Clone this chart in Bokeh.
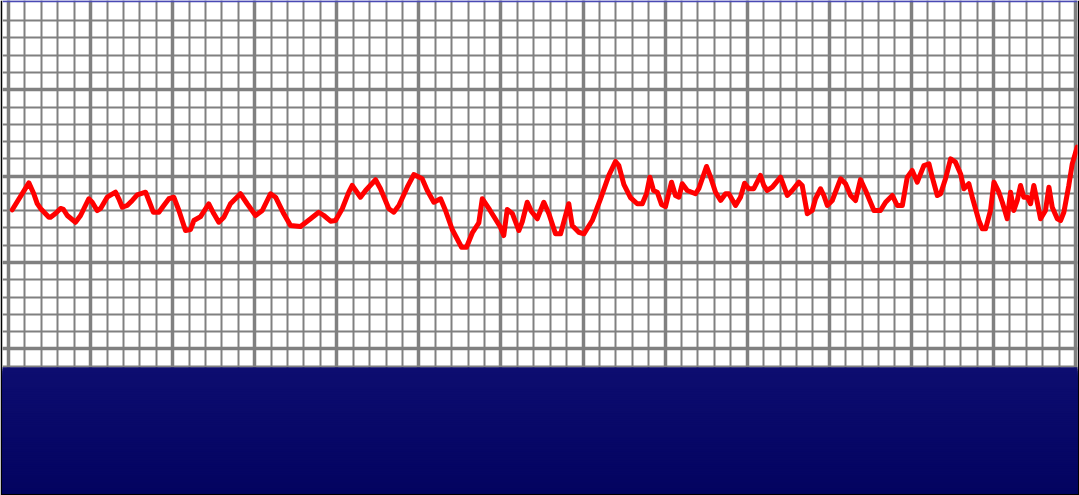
from bokeh.plotting import figure
from bokeh.models import Range1d, FixedTicker, Span, Grid
from bokeh.embed import file_html
from bokeh.resources import INLINE

# ---- data (grid units: x in minor divisions, y in minor divisions) ----
x_vals = [0.23, 1.24, 1.54, 1.75, 1.95, 2.46, 2.56, 2.86, 3.17, 3.35, 3.58, 4.08, 4.39, 4.89, 5.10,
          5.40, 5.61, 6.01, 6.52, 6.72, 6.93, 7.23, 7.54, 7.84, 8.35, 8.55, 8.82, 9.16, 9.46, 9.77,
          10.07, 10.38, 10.78, 11.09, 11.29, 11.70, 12.20, 12.51, 12.81, 13.12, 13.52, 14.13, 14.54,
          15.05, 15.46, 15.96, 16.27, 16.77, 17.18, 17.79, 18.40, 18.90, 19.21, 19.62, 19.92, 20.33,
          20.73, 20.94, 21.44, 21.75, 22.36, 22.66, 23.17, 23.47, 23.78, 24.29, 24.69, 25.20, 25.51,
          25.91, 26.32, 26.62, 27.03, 27.60, 27.90, 28.25, 28.65, 28.86, 29.30, 29.97, 30.17, 30.38,
          30.69, 31.09, 31.30, 31.60, 31.86, 32.21, 32.61, 32.92, 33.32, 33.63, 34.13, 34.34, 34.74,
          35.05, 35.56, 36.07, 36.57, 36.98, 37.18, 37.49, 37.89, 38.30, 38.61, 38.87, 39.07, 39.29,
          39.52, 39.78, 40.02, 40.39, 40.63, 40.84, 41.04, 41.35, 41.85, 42.05, 42.52, 42.77, 43.07,
          43.38, 43.68, 43.88, 44.29, 44.59, 44.84, 45.10, 45.40, 45.81, 46.01, 46.22, 46.53, 47.03,
          47.44, 47.74, 48.15, 48.35, 48.55, 48.66, 48.96, 49.16, 49.47, 49.67, 49.88, 50.18, 50.69,
          50.99, 51.30, 51.60, 51.90, 52.21, 52.72, 53.12, 53.43, 53.84, 54.14, 54.45, 54.75, 55.05,
          55.36, 55.76, 56.07, 56.27, 56.58, 56.78, 57.08, 57.39, 57.69, 58.00, 58.20, 58.50, 58.71,
          59.11, 59.32, 59.52, 59.82, 60.03, 60.33, 60.54, 60.84, 61.04, 61.24, 61.45, 61.65, 61.85,
          62.06, 62.26, 62.46, 62.67, 62.87, 63.17, 63.38, 63.58, 63.89, 64.09, 64.29, 64.59, 64.80,
          65.10]
y_vals = [8.05, 9.61, 8.98, 8.41, 8.13, 7.62, 7.62, 7.84, 8.13, 8.07, 7.72, 7.33, 7.72, 8.69, 8.49,
          8.01, 8.13, 8.78, 9.07, 8.69, 8.20, 8.30, 8.59, 8.92, 9.07, 8.59, 7.91, 7.91, 8.30, 8.69,
          8.78, 8.01, 6.85, 6.91, 7.43, 7.66, 8.40, 7.82, 7.33, 7.62, 8.40, 8.98, 8.40,
          7.72, 8.01, 8.98, 8.78, 7.82, 7.14, 7.08, 7.53, 7.91, 7.72, 7.39, 7.43, 8.11,
          9.07, 9.46, 8.78, 9.17, 9.79, 9.27, 8.11, 7.91, 8.30, 9.36, 10.09, 9.85, 9.17,
          8.49, 8.69, 8.01, 6.91, 5.88, 5.88, 6.71, 7.29, 8.69, 8.07, 7.04, 6.56, 8.07,
          7.84, 6.85, 7.37, 8.49, 7.95, 7.53, 8.49, 7.82, 6.66, 6.66, 8.40, 7.14, 6.75,
          6.66, 7.43, 8.70, 10.04, 10.85, 10.61, 9.51, 8.76, 8.40, 8.40, 8.99, 9.94, 9.17,
          9.07, 8.36, 8.24, 9.65, 8.88, 8.78, 9.56, 9.17, 8.98, 9.27, 10.56, 9.94, 9.07,
          8.59, 8.98, 8.98, 8.30, 8.78, 9.59, 9.27, 9.27, 10.04, 9.46, 9.17, 9.36, 9.94,
          8.88, 9.17, 9.65, 9.46, 8.40, 7.82, 8.01, 8.69, 9.27, 8.88, 8.30, 8.59, 9.85,
          9.56, 8.88, 8.59, 9.80, 9.17, 8.01, 8.01, 8.49, 8.88, 8.30, 8.30, 9.94, 10.33,
          9.65, 10.61, 10.71, 9.94, 8.88, 8.98, 9.85, 11.00, 10.81, 10.13, 9.27, 9.56, 8.78,
          7.43, 6.95, 6.95, 8.01, 9.65, 9.07, 8.49, 7.53, 9.07, 8.01, 8.59, 9.46, 8.78,
          8.78, 8.40, 9.46, 8.49, 7.53, 8.01, 9.36, 8.20, 7.53, 7.43, 7.91, 9.46, 10.71,
          11.68]

x_major_ticks = [0, 5, 10, 15, 20, 25, 30, 35, 40, 45, 50, 55, 60, 65]
x_minor_ticks = list(range(0, 66))
y_major_ticks = [0, 5, 10, 15]
y_minor_ticks = list(range(-1, 20))

band_top_color = (13, 13, 112)
band_bottom_color = (3, 3, 96)

# ---- figure ----
p = figure(width=1079, height=495, output_backend="svg", toolbar_location=None,
           x_range=Range1d(-0.366, 65.12), y_range=Range1d(-8.377, 20.17),
           x_axis_location=None, y_axis_location=None,
           min_border_left=2, min_border_right=2, min_border_top=0, min_border_bottom=2,
           border_fill_color="black", background_fill_color="white",
           outline_line_color=None)

for g in p.grid:
    g.visible = False

xg = Grid(dimension=0, ticker=FixedTicker(ticks=x_major_ticks, minor_ticks=x_minor_ticks),
          grid_line_color="#808080", grid_line_width=3.5,
          minor_grid_line_color="#808080", minor_grid_line_width=2)
yg = Grid(dimension=1, ticker=FixedTicker(ticks=y_major_ticks, minor_ticks=y_minor_ticks),
          grid_line_color="#808080", grid_line_width=3.5,
          minor_grid_line_color="#808080", minor_grid_line_width=2)
p.add_layout(xg, "center")
p.add_layout(yg, "center")

# navy gradient band below the grid
n = 70
band_hi = -1.07
band_lo = -8.5
tops, cols = [], []
for i in range(n):
    t = i / (n - 1)
    tops.append(band_hi + (band_lo - band_hi) * i / n)
    r = round(band_top_color[0] + (band_bottom_color[0] - band_top_color[0]) * t)
    gg = round(band_top_color[1] + (band_bottom_color[1] - band_top_color[1]) * t)
    b = round(band_top_color[2] + (band_bottom_color[2] - band_top_color[2]) * t)
    cols.append("#%02x%02x%02x" % (r, gg, b))
p.quad(left=[-1] * n, right=[67] * n, top=tops, bottom=[band_lo] * n,
       fill_color=cols, line_color=None)

p.add_layout(Span(location=20.125, dimension="width", line_color="#4a4ab4", line_width=2))

p.line(x_vals, y_vals, line_color="#ff0000", line_width=5,
       line_join="round", line_cap="round")

html = file_html(p, INLINE, title="chart")
html = html.replace("</head>", "<style>html,body{margin:0;padding:0;overflow:hidden;}</style></head>", 1)
open("out.html", "w").write(html)
